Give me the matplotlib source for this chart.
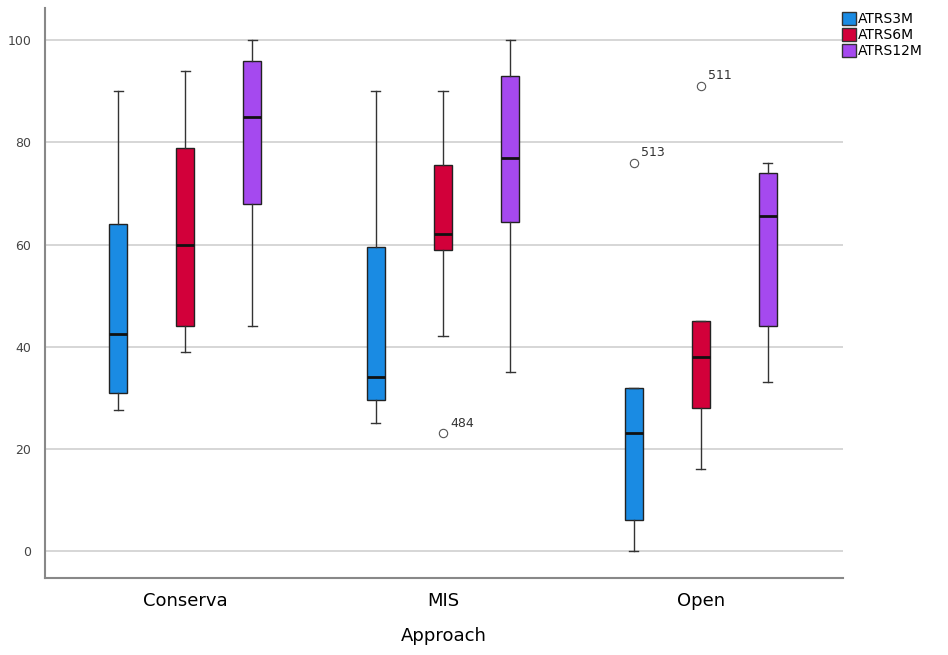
import matplotlib
matplotlib.use("Agg")
from matplotlib import pyplot as plt
from matplotlib.patches import Patch

groups = ["Conserva", "MIS", "Open"]
series = ["ATRS3M", "ATRS6M", "ATRS12M"]
colors = ["#1a8be3", "#d2003a", "#a549ef"]

# box stats per series, one value per group: whislo, q1, med, q3, whishi
whislo = [[27.5, 25, 0], [39, 42, 16], [44, 35, 33]]
q1 = [[31, 29.5, 6], [44, 59, 28], [68, 64.5, 44]]
med = [[42.5, 34, 23], [60, 62, 38], [85, 77, 65.5]]
q3 = [[64, 59.5, 32], [79, 75.5, 45], [96, 93, 74]]
whishi = [[90, 90, 32], [94, 90, 45], [100, 100, 76]]

# outliers: (series, group, value, case label)
outliers = [(1, 1, 23, "484"), (0, 2, 76, "513"), (1, 2, 91, "511")]

fig = plt.figure(figsize=(9.48, 6.55), dpi=100)
ax = fig.add_axes([0.0475, 0.1176, 0.8415, 0.870])

offset = 0.26
width = 0.07
for s in range(3):
    stats = []
    for g in range(3):
        fl = [o[2] for o in outliers if o[0] == s and o[1] == g]
        stats.append(dict(whislo=whislo[s][g], q1=q1[s][g], med=med[s][g],
                          q3=q3[s][g], whishi=whishi[s][g], fliers=fl))
    pos = [g + (s - 1) * offset for g in range(3)]
    ax.bxp(stats, positions=pos, widths=width, patch_artist=True,
           boxprops=dict(facecolor=colors[s], edgecolor="#222222", linewidth=1),
           medianprops=dict(color="#111111", linewidth=2),
           whiskerprops=dict(color="#333333", linewidth=1),
           capprops=dict(color="#333333", linewidth=1),
           capwidths=0.035,
           flierprops=dict(marker="o", markersize=6, markerfacecolor="none",
                           markeredgecolor="#555555", markeredgewidth=0.8))

for s, g, v, lab in outliers:
    x = g + (s - 1) * offset
    ax.annotate(lab, (x, v), xytext=(5, 5), textcoords="offset points",
                fontsize=9, color="#333333")

ax.set_xlim(-0.543, 2.55)
ax.set_ylim(-5.3, 106.3)
ax.set_yticks([0, 20, 40, 60, 80, 100])
ax.set_xticks(range(3))
ax.set_xticklabels(groups, fontsize=13)
ax.tick_params(axis="y", length=0, labelsize=9, labelcolor="#444444", pad=10)
ax.tick_params(axis="x", length=0, pad=10)
ax.yaxis.grid(True, color="#d0d0d0", linewidth=1.2)
ax.set_axisbelow(True)
for side in ["top", "right"]:
    ax.spines[side].set_visible(False)
for side in ["left", "bottom"]:
    ax.spines[side].set_color("#888888")
    ax.spines[side].set_linewidth(1.5)
ax.set_xlabel("Approach", fontsize=13, labelpad=12)

handles = [Patch(facecolor=c, edgecolor="#333333") for c in colors]
fig.legend(handles, series, loc="upper left", bbox_to_anchor=(0.882, 0.99),
           frameon=False, fontsize=10, handlelength=1.0, handleheight=1.0,
           handletextpad=0.2, labelspacing=0.15, borderaxespad=0)

fig.savefig("out.png", dpi=100)
